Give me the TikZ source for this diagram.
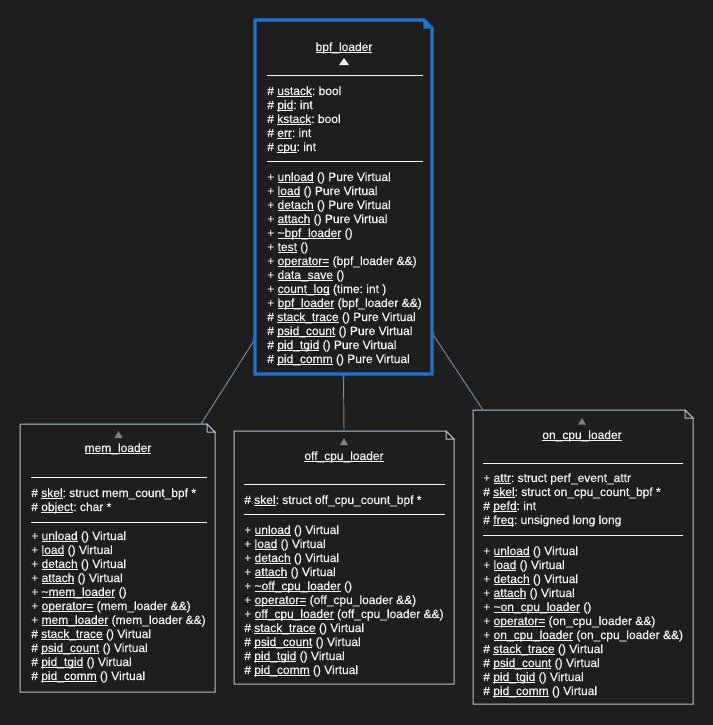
\documentclass[tikz,border=0pt]{standalone}
\usepackage{fontspec}
\setmainfont{Liberation Sans}
\newfontfamily\umlfont[FakeBold=0.45]{Liberation Sans}
\usetikzlibrary{calc,arrows.meta}
\frenchspacing
\definecolor{canvas}{HTML}{1E1E1E}
\definecolor{boxfill}{HTML}{1E1E1E}
\definecolor{bpfblue}{HTML}{1F73D0}
\definecolor{subedge}{HTML}{A9C6D6}
\definecolor{linkcol}{HTML}{6F8FAA}
\definecolor{ink}{HTML}{F4F4F4}
\definecolor{marker}{HTML}{808080}
% underline at a fixed depth, independent of descenders
\newcommand\uln[1]{\setbox0\hbox{#1}\rlap{\rule[-1.7pt]{\wd0}{0.65pt}}\box0\relax}
% one text node per member line, 14px apart
\newcommand\classlines[4]{%
  \foreach \t [count=\i] in {#4}{\node[member] (#1-\i) at (#2,{#3+14*(\i-1)}) {\t};}}
% outline of a class box with a folded top-right corner
\newcommand\classoutline[3]{%
  \draw[#2] (#1.south west) -- (#1.north west) -- ($(#1.north east)+(-8,0)$)
    -- ($(#1.north east)+(0,8)$) -- (#1.south east) -- cycle;
  \draw[#2, #3] ($(#1.north east)+(-8,0)$) -- ($(#1.north east)+(-8,8)$)
    -- ($(#1.north east)+(0,8)$) -- cycle;}
\tikzset{
  classbox/.style={rectangle, inner sep=0pt, outer sep=0pt, fill=boxfill},
  mainedge/.style={draw=bpfblue, line width=2.3pt, line join=miter},
  subedge/.style={draw=subedge, line width=0.75pt},
  member/.style={anchor=base west, inner sep=0pt, text=ink,
    font=\umlfont\fontsize{9}{10.5}\selectfont\frenchspacing},
  title/.style={anchor=base, inner sep=0pt, text=ink,
    font=\umlfont\fontsize{9}{10.5}\selectfont},
  sep/.style={draw=ink, line width=0.75pt},
  link/.style={draw=linkcol, line width=0.7pt,
    -{Circle[length=2.6pt, color=bpfblue]}},
}
\begin{document}
\begin{tikzpicture}[x=0.75pt,y=-0.75pt]
\fill[canvas] (0,0) rectangle (713,725);
\useasboundingbox (0,0) rectangle (713,725);

% ---------- bpf_loader ----------
\node[classbox, minimum width=177*0.75pt, minimum height=354*0.75pt] (bpf) at (343.5,197) {};
\classoutline{bpf}{mainedge}{fill=bpfblue, line width=1pt}
\node[title] (bpf-name) at (344,51) {\uln{bpf\_loader}};
\fill[ink] (344,58) -- (349,65) -- (339,65) -- cycle;
\draw[sep] (267,75) -- (423,75);
\draw[sep] (267,161) -- (423,161);
\classlines{bpfa}{267}{95}{{\# \uln{ustack}: bool},{\# \uln{pid}: int},{\# \uln{kstack}: bool},{\# \uln{err}: int},{\# \uln{cpu}: int}}
\classlines{bpfm}{267}{181}{{+ \uln{unload} () Pure Virtual},{+ \uln{load} () Pure Virtual},{+ \uln{detach} () Pure Virtual},{+ \uln{attach} () Pure Virtual},{+ \uln{\textasciitilde bpf\_loader} ()},{+ \uln{test} ()},{+ \uln{operator=} (bpf\_loader \&\&)},{+ \uln{data\_save} ()},{+ \uln{count\_log} (time: int )},{+ \uln{bpf\_loader} (bpf\_loader \&\&)},{\# \uln{stack\_trace} () Pure Virtual},{\# \uln{psid\_count} () Pure Virtual},{\# \uln{pid\_tgid} () Pure Virtual},{\# \uln{pid\_comm} () Pure Virtual}}

% ---------- mem_loader ----------
\node[classbox, minimum width=195*0.75pt, minimum height=268*0.75pt] (mem) at (117.5,558) {};
\classoutline{mem}{subedge}{}
\fill[marker] (118.5,431) -- (122.5,438) -- (114.5,438) -- cycle;
\node[title] (mem-name) at (118,452) {\uln{mem\_loader}};
\draw[sep] (31,477) -- (207,477);
\draw[sep] (31,522) -- (207,522);
\classlines{mema}{31}{497}{{\# \uln{skel}: struct mem\_count\_bpf *},{\# \uln{object}: char *}}
\classlines{memm}{31}{540}{{+ \uln{unload} () Virtual},{+ \uln{load} () Virtual},{+ \uln{detach} () Virtual},{+ \uln{attach} () Virtual},{+ \uln{\textasciitilde mem\_loader} ()},{+ \uln{operator=} (mem\_loader \&\&)},{+ \uln{mem\_loader} (mem\_loader \&\&)},{\# \uln{stack\_trace} () Virtual},{\# \uln{psid\_count} () Virtual},{\# \uln{pid\_tgid} () Virtual},{\# \uln{pid\_comm} () Virtual}}

% ---------- off_cpu_loader ----------
\node[classbox, minimum width=220*0.75pt, minimum height=253*0.75pt] (off) at (344,557.5) {};
\classoutline{off}{subedge}{}
\fill[marker] (344,438) -- (348,445) -- (340,445) -- cycle;
\node[title] (off-name) at (344,460) {\uln{off\_cpu\_loader}};
\draw[sep] (244,484) -- (445,484);
\draw[sep] (244,514) -- (445,514);
\classlines{offa}{244}{504}{{\# \uln{skel}: struct off\_cpu\_count\_bpf *}}
\classlines{offm}{244}{534}{{+ \uln{unload} () Virtual},{+ \uln{load} () Virtual},{+ \uln{detach} () Virtual},{+ \uln{attach} () Virtual},{+ \uln{\textasciitilde off\_cpu\_loader} ()},{+ \uln{operator=} (off\_cpu\_loader \&\&)},{+ \uln{off\_cpu\_loader} (off\_cpu\_loader \&\&)},{\# \uln{stack\_trace} () Virtual},{\# \uln{psid\_count} () Virtual},{\# \uln{pid\_tgid} () Virtual},{\# \uln{pid\_comm} () Virtual}}

% ---------- on_cpu_loader ----------
\node[classbox, minimum width=220*0.75pt, minimum height=294*0.75pt] (on) at (583,557) {};
\classoutline{on}{subedge}{}
\fill[marker] (582,418) -- (586,424.5) -- (578,424.5) -- cycle;
\node[title] (on-name) at (582,439) {\uln{on\_cpu\_loader}};
\draw[sep] (483,463) -- (683,463);
\draw[sep] (483,535) -- (683,535);
\classlines{ona}{483}{482}{{+ \uln{attr}: struct perf\_event\_attr},{\# \uln{skel}: struct on\_cpu\_count\_bpf *},{\# \uln{pefd}: int},{\# \uln{freq}: unsigned long long}}
\classlines{onm}{483}{555}{{+ \uln{unload} () Virtual},{+ \uln{load} () Virtual},{+ \uln{detach} () Virtual},{+ \uln{attach} () Virtual},{+ \uln{\textasciitilde on\_cpu\_loader} ()},{+ \uln{operator=} (on\_cpu\_loader \&\&)},{+ \uln{on\_cpu\_loader} (on\_cpu\_loader \&\&)},{\# \uln{stack\_trace} () Virtual},{\# \uln{psid\_count} () Virtual},{\# \uln{pid\_tgid} () Virtual},{\# \uln{pid\_comm} () Virtual}}

% ---------- generalisation links ----------
\draw[link] ($(mem.north west)+(181,0)$) -- ($(bpf.south west)+(0,-35)$);
\draw[link] (off.north) -- (bpf.south);
\draw[link] ($(on.north west)+(10,0)$) -- ($(bpf.south east)+(0,-41)$);
\end{tikzpicture}
\end{document}
